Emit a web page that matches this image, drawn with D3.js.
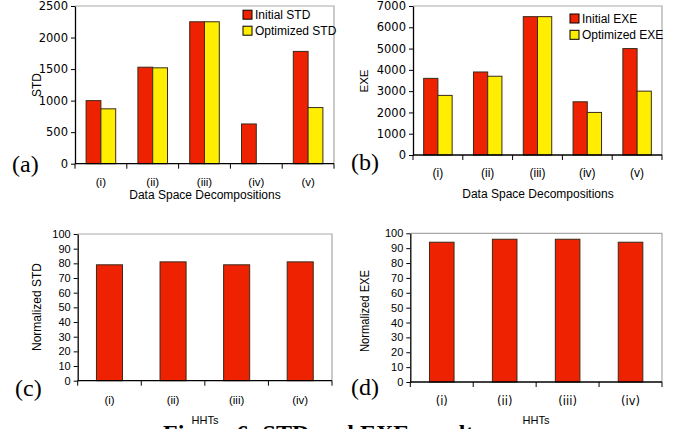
<!DOCTYPE html>
<html><head><meta charset="utf-8">
<script src="https://cdn.jsdelivr.net/npm/d3@7"></script>
<style>body{margin:0;background:#fff}svg{display:block}</style>
</head><body>
<svg id="chart" width="677" height="429"></svg>
<script>
// ---- data ----
const decompCats = ["(i)", "(ii)", "(iii)", "(iv)", "(v)"];
const initialSTD = [1000, 1530, 2250, 630, 1780];
const optimizedSTD = [870, 1520, 2250, 0, 890];
const initialEXE = [3600, 3900, 6500, 2500, 5000];
const optimizedEXE = [2800, 3700, 6500, 2000, 3000];
const hhtCats = ["(i)", "(ii)", "(iii)", "(iv)"];
const normalizedSTD = [79, 81, 79, 81];
const normalizedEXE = [94, 96, 96, 94];
const ticksSTD = [0, 500, 1000, 1500, 2000, 2500];
const ticksEXE = [0, 1000, 2000, 3000, 4000, 5000, 6000, 7000];
const ticksNorm = [0, 10, 20, 30, 40, 50, 60, 70, 80, 90, 100];

const RED = "#ee2200", YELLOW = "#ffee00";
const svg = d3.select("#chart");
const SANS = "Arial, 'Liberation Sans', sans-serif";
const DEJA = "'DejaVu Sans', Verdana, sans-serif";
const SERIF = "'Times New Roman', 'Liberation Serif', serif";

function panel(c) {
  const g = svg.append("g");
  const x0 = d3.scaleBand().domain(c.cats).range([c.left, c.right]).padding(0);
  const x1 = d3.scaleBand().domain(c.series.map(s => s.name)).range([0, x0.bandwidth()])
    .paddingInner(0).paddingOuter(c.outerPad);
  const y = d3.scaleLinear().domain([0, c.yMax]).range([c.bottom, c.top]);

  // plot frame (light grey top/right)
  g.append("path")
    .attr("d", `M${c.left},${y(c.yMax)}H${c.right}V${c.bottom}`)
    .attr("fill", "none").attr("stroke", "#a8a8a8").attr("stroke-width", 1.2);

  // bars
  c.series.forEach(s => {
    g.append("g").selectAll("rect").data(c.cats.map((k, i) => ({k, v: s.values[i]})))
      .join("rect")
      .attr("x", d => x0(d.k) + x1(s.name))
      .attr("y", d => y(d.v))
      .attr("width", x1.bandwidth())
      .attr("height", d => y(0) - y(d.v))
      .attr("fill", s.color)
      .attr("stroke", d => d.v > 0 ? "#3a2a1a" : "none")
      .attr("stroke-width", 1);
  });

  // y axis
  const ya = d3.axisLeft(y).tickValues(c.ticks).tickFormat(d3.format("d"))
    .tickSize(4).tickSizeOuter(0).tickPadding(3);
  const yg = g.append("g").attr("transform", `translate(${c.left},0)`).call(ya);
  yg.select(".domain").attr("stroke", "#000").attr("stroke-width", 1.3);
  yg.selectAll(".tick line").attr("stroke", "#000");
  yg.selectAll(".tick text").attr("font-family", c.tickFont).attr("font-size", c.tickSize).attr("fill", "#000");

  // x axis line
  g.append("line").attr("x1", c.left).attr("x2", c.right).attr("y1", y(0)).attr("y2", y(0))
    .attr("stroke", "#000").attr("stroke-width", 1.3);
  // boundary ticks
  const bounds = c.cats.map(k => x0(k)).concat([x0(c.cats[c.cats.length - 1]) + x0.step()]);
  g.append("g").selectAll("line").data(bounds).join("line")
    .attr("x1", d => d).attr("x2", d => d).attr("y1", y(0)).attr("y2", y(0) + 5)
    .attr("stroke", "#000");
  // category labels
  g.append("g").selectAll("text").data(c.cats).join("text")
    .attr("x", k => x0(k) + x0.bandwidth() / 2)
    .attr("y", y(0) + c.catDy)
    .attr("text-anchor", "middle")
    .attr("font-family", c.catFont).attr("font-size", c.catSize)
    .text(k => k);

  // axis titles
  g.append("text").attr("x", c.xlabelX).attr("y", c.xlabelY).attr("text-anchor", "middle")
    .attr("font-family", SANS).attr("font-size", c.xlabelSize).text(c.xlabel);
  const yl = g.append("text")
    .attr("transform", `translate(${c.ylabelX},${c.ylabelY}) rotate(-90)`)
    .attr("text-anchor", "middle").attr("font-family", SANS).attr("font-size", c.ylabelSize)
    .text(c.ylabel);
  if (c.ylabelLen) yl.attr("textLength", c.ylabelLen).attr("lengthAdjust", "spacingAndGlyphs");

  // panel tag
  g.append("text").attr("x", c.tagX).attr("y", c.tagY).attr("font-family", SERIF)
    .attr("font-size", 24).text(c.tag);

  // legend
  if (c.legend) {
    c.series.forEach((s, i) => {
      const ly = c.legend.y + i * c.legend.dy;
      g.append("rect").attr("x", c.legend.x).attr("y", ly - 4.5).attr("width", 9).attr("height", 9)
        .attr("fill", s.color).attr("stroke", "#000").attr("stroke-width", 1);
      g.append("text").attr("x", c.legend.x + 12).attr("y", ly + 4.3)
        .attr("font-family", SANS).attr("font-size", 12).text(s.name);
    });
  }
}

panel({
  left: 75, right: 334, top: 6, bottom: 163.7, cats: decompCats, yMax: 2500, ticks: ticksSTD,
  series: [{name: "Initial STD", values: initialSTD, color: RED},
           {name: "Optimized STD", values: optimizedSTD, color: YELLOW}],
  outerPad: 0.75, tickFont: DEJA, tickSize: 11.5, catFont: SANS, catSize: 11.5, catDy: 21.8,
  xlabel: "Data Space Decompositions", xlabelX: 205, xlabelY: 198.5, xlabelSize: 12,
  ylabel: "STD", ylabelX: 41, ylabelY: 85, ylabelSize: 12,
  tag: "(a)", tagX: 12, tagY: 172,
  legend: {x: 243, y: 14.7, dy: 16}
});
panel({
  left: 413, right: 662, top: 6, bottom: 155, cats: decompCats, yMax: 7000, ticks: ticksEXE,
  series: [{name: "Initial EXE", values: initialEXE, color: RED},
           {name: "Optimized EXE", values: optimizedEXE, color: YELLOW}],
  outerPad: 0.75, tickFont: DEJA, tickSize: 11.5, catFont: SANS, catSize: 12, catDy: 22,
  xlabel: "Data Space Decompositions", xlabelX: 538, xlabelY: 197.5, xlabelSize: 12,
  ylabel: "EXE", ylabelX: 368, ylabelY: 81, ylabelSize: 11.5,
  tag: "(b)", tagX: 351, tagY: 170,
  legend: {x: 570, y: 18.5, dy: 16.3}
});
panel({
  left: 77.7, right: 332, top: 234, bottom: 380.7, cats: hhtCats, yMax: 100, ticks: ticksNorm,
  series: [{name: "Normalized STD", values: normalizedSTD, color: RED}],
  outerPad: 0.72, tickFont: SANS, tickSize: 11, catFont: SANS, catSize: 11.5, catDy: 23,
  xlabel: "HHTs", xlabelX: 205, xlabelY: 423.5, xlabelSize: 11,
  ylabel: "Normalized STD", ylabelX: 41, ylabelY: 307, ylabelSize: 12,
  tag: "(c)", tagX: 15, tagY: 395.5
});
panel({
  left: 410.3, right: 662, top: 233.3, bottom: 382, cats: hhtCats, yMax: 100, ticks: ticksNorm,
  series: [{name: "Normalized EXE", values: normalizedEXE, color: RED}],
  outerPad: 0.78, tickFont: SANS, tickSize: 11, catFont: DEJA, catSize: 11.5, catDy: 23,
  xlabel: "HHTs", xlabelX: 536, xlabelY: 424, xlabelSize: 11,
  ylabel: "Normalized EXE", ylabelX: 369, ylabelY: 311, ylabelSize: 12, ylabelLen: 82,
  tag: "(d)", tagX: 351, tagY: 395
});

// figure caption (cut off by the image edge)
svg.append("text").attr("x", 163).attr("y", 441).attr("font-family", SERIF)
  .attr("font-weight", "bold").attr("font-size", 24).text("Figure 6: STD and EXE results");
</script>
</body></html>
